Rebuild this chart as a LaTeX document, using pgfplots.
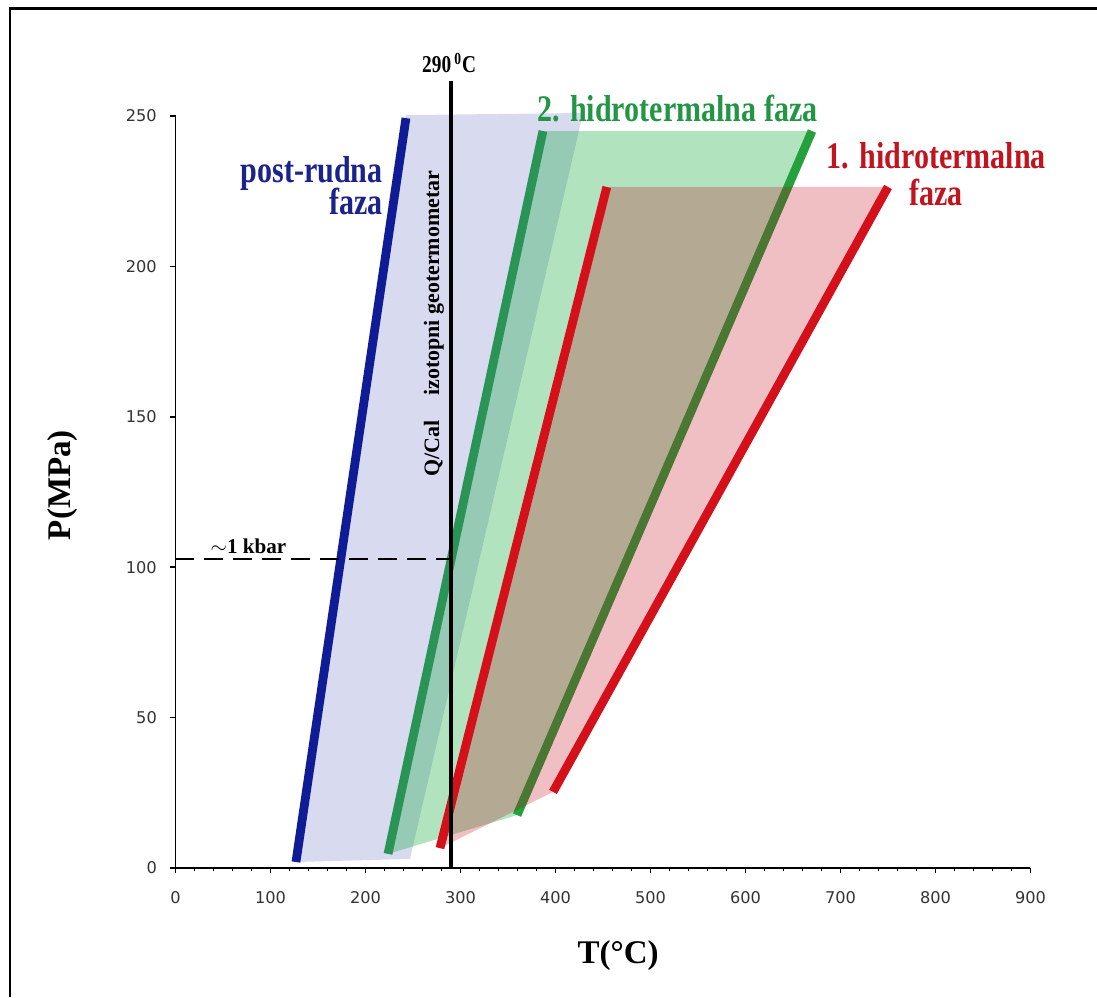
\documentclass[border=0pt]{standalone}
\usepackage{pgfplots}
\pgfplotsset{compat=1.18}
\usepackage{fontspec}
\setmainfont{Liberation Serif}
\newfontfamily\tickfont{DejaVu Sans}
\usepackage{graphicx}

\definecolor{bline}{RGB}{16,28,150}
\definecolor{bfill}{RGB}{40,50,170}
\definecolor{btext}{RGB}{26,35,140}
\definecolor{gline}{RGB}{42,148,87}
\definecolor{gline2}{RGB}{36,160,60}
\definecolor{gfill}{RGB}{20,170,60}
\definecolor{gtext}{RGB}{35,150,70}
\definecolor{rline}{RGB}{212,16,26}
\definecolor{rfill}{RGB}{190,0,20}
\definecolor{rtext}{RGB}{192,20,30}

\newcommand{\bigfnt}{\fontsize{17.1pt}{20pt}\selectfont\bfseries}
\newcommand{\st}[1]{\scalebox{1}[1.25]{#1}}

\begin{document}
\begin{tikzpicture}
\useasboundingbox (0,0) rectangle (21.94cm,19.94cm);
\draw[line width=1.7pt] (0.2cm,0) -- (0.2cm,19.76cm) -- (21.94cm,19.76cm);
\begin{axis}[
  at={(3.51cm,2.58cm)}, anchor=south west,
  scale only axis, width=17.1cm, height=15.04cm,
  xmin=0, xmax=900, ymin=0, ymax=250,
  axis x line*=bottom, axis y line*=left,
  axis line style={line width=1.1pt, -},
  xtick={0,100,...,900}, ytick={0,50,...,250},
  minor x tick num=4,
  tick align=outside,
  major tick length=0.1cm, minor tick length=0.06cm,
  every tick/.style={line width=0.9pt, black},
  ticklabel style={font=\tickfont\fontsize{9.2pt}{11pt}\selectfont, text=black!80},
  xticklabel style={yshift=-0.25cm},
  yticklabel style={xshift=-0.15cm},
  /pgf/number format/assume math mode=true,
  clip=false,
]
% blue phase
\addplot[fill=bfill, fill opacity=0.18, draw=none] coordinates {(126.8,2.0) (246.8,3.0) (429,251) (242.6,250.3)};
\addplot[bline, line width=5pt] coordinates {(126.8,2.0) (242.6,249.3)};
% green phase
\addplot[fill=gfill, fill opacity=0.33, draw=none] coordinates {(223.7,4.7) (359.5,17.6) (670,245) (386.8,245)};
\addplot[gline, line width=5pt] coordinates {(223.7,4.7) (386.8,245)};
\addplot[gline2, line width=5pt] coordinates {(359.5,17.6) (670,245)};
% red phase
\addplot[fill=rfill, fill opacity=0.25, draw=none] coordinates {(278.4,6.6) (397.4,25.3) (750,226.4) (454,226.4)};
\addplot[rline, line width=5pt] coordinates {(278.4,6.6) (454,226.4)};
\addplot[rline, line width=5pt] coordinates {(397.4,25.3) (750,226.4)};
% 290 C line
\addplot[black, line width=2.4pt] coordinates {(290,0) (290,261.6)};
% 1 kbar
\addplot[black, line width=1.1pt, dash pattern=on 10.8pt off 5.7pt] coordinates {(0,102.6) (290,102.6)};

\node[anchor=base east, text=btext, inner sep=0pt] at (218.4,228) {\st{\bigfnt post-rudna}};
\node[anchor=base east, text=btext, inner sep=0pt] at (218.4,217.1) {\st{\bigfnt faza}};
\node[anchor=base, text=gtext, inner sep=0pt] at (528.4,248.3) {\st{\bigfnt 2. hidrotermalna faza}};
\node[anchor=base, text=rtext, inner sep=0pt] at (801,232.7) {\st{\bigfnt 1. hidrotermalna}};
\node[anchor=base east, text=rtext, inner sep=0pt] at (829,220.4) {\st{\bigfnt faza}};
\node[anchor=base, inner sep=0pt] at (288,264.3) {\st{\fontsize{11pt}{13pt}\selectfont\bfseries 290\,\textsuperscript{0}C}};
\node[anchor=base, inner sep=0pt] at (76.8,104.4) {\fontsize{12pt}{14pt}\selectfont\bfseries $\sim$1 kbar};
\node[rotate=90, anchor=center, inner sep=0pt] at (272,181) {\fontsize{12.5pt}{14pt}\selectfont\bfseries Q/Cal\hspace{14pt}izotopni geotermometar};
\node[anchor=base, inner sep=0pt] at (466,-31.6) {\fontsize{18.8pt}{22pt}\selectfont\bfseries T(\textdegree C)};
\node[rotate=90, anchor=center, inner sep=0pt] at (-119,127.3) {\fontsize{18.8pt}{22pt}\selectfont\bfseries P(MPa)};
\end{axis}
\end{tikzpicture}
\end{document}
